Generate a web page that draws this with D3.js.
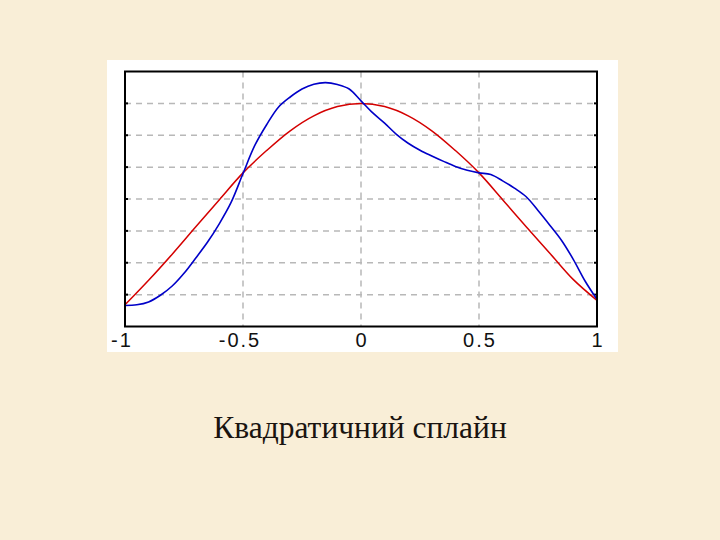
<!DOCTYPE html>
<html>
<head>
<meta charset="utf-8">
<script src="https://cdn.jsdelivr.net/npm/d3@7"></script>
<style>
  html, body { margin: 0; padding: 0; background: #f9eed7; }
  svg { display: block; }
</style>
</head>
<body>
<svg id="chart" width="720" height="540"></svg>
<script>
// ---- data ----
const redX = [-1, -0.9, -0.8, -0.7, -0.6, -0.5, -0.4, -0.3, -0.2, -0.1, 0,
              0.1, 0.2, 0.3, 0.4, 0.5, 0.6, 0.7, 0.8, 0.9, 1];
const redValues = [0.368, 0.445, 0.527, 0.613, 0.698, 0.782, 0.852, 0.914, 0.961, 0.990, 1.0,
                   0.990, 0.961, 0.914, 0.852, 0.782, 0.698, 0.613, 0.530, 0.447, 0.382];
const blueX = [-1, -0.95, -0.9, -0.85, -0.8, -0.75, -0.7, -0.65, -0.6, -0.55, -0.5,
               -0.45, -0.4, -0.35, -0.3, -0.25, -0.2, -0.15, -0.1, -0.05, 0,
               0.05, 0.1, 0.15, 0.2, 0.25, 0.3, 0.35, 0.4, 0.45, 0.5,
               0.55, 0.6, 0.65, 0.7, 0.75, 0.8, 0.85, 0.9, 0.95, 1];
const blueValues = [0.366, 0.368, 0.377, 0.398, 0.427, 0.467, 0.515, 0.565, 0.623, 0.690, 0.780,
                    0.868, 0.933, 0.988, 1.020, 1.045, 1.060, 1.065, 1.059, 1.045, 1.008,
                    0.970, 0.938, 0.903, 0.875, 0.853, 0.835, 0.818, 0.802, 0.790, 0.782,
                    0.777, 0.757, 0.734, 0.707, 0.664, 0.618, 0.570, 0.510, 0.442, 0.385];
const xTicks = [-1, -0.5, 0, 0.5, 1];
const xTickLabels = ["-1", "-0.5", "0", "0.5", "1"];
const xGrid = [-0.5, 0, 0.5];
const yGrid = [0.4, 0.5, 0.6, 0.7, 0.8, 0.9, 1.0];
const title = "Квадратичний сплайн";

// ---- layout ----
const svg = d3.select("#chart");
const plot = { left: 125, right: 597, top: 71.5, bottom: 326.5 };

const x = d3.scaleLinear().domain([-1, 1]).range([plot.left, plot.right]);
const y = d3.scaleLinear().domain([0.3, 1.1]).range([plot.bottom, plot.top]);

// white panel
svg.append("rect")
  .attr("x", 107).attr("y", 60).attr("width", 511).attr("height", 292)
  .attr("fill", "#ffffff");

// grid
const g = svg.append("g");
g.selectAll("line.vg").data(xGrid).enter().append("line")
  .attr("x1", d => x(d)).attr("x2", d => x(d))
  .attr("y1", plot.top).attr("y2", plot.bottom)
  .attr("stroke", "#b8b8b8").attr("stroke-width", 1.5)
  .attr("stroke-dasharray", "6,5");
g.selectAll("line.hg").data(yGrid).enter().append("line")
  .attr("x1", plot.left).attr("x2", plot.right)
  .attr("y1", d => y(d)).attr("y2", d => y(d))
  .attr("stroke", "#b8b8b8").attr("stroke-width", 1.5)
  .attr("stroke-dasharray", "6,5");

// small y ticks on left and right edges
g.selectAll("line.lt").data(yGrid).enter().append("line")
  .attr("x1", plot.left).attr("x2", plot.left + 3)
  .attr("y1", d => y(d)).attr("y2", d => y(d))
  .attr("stroke", "#000").attr("stroke-width", 2);
g.selectAll("line.rt").data(yGrid).enter().append("line")
  .attr("x1", plot.right - 3).attr("x2", plot.right)
  .attr("y1", d => y(d)).attr("y2", d => y(d))
  .attr("stroke", "#000").attr("stroke-width", 2);

// curves
const makeLine = xs => d3.line()
  .x((d, i) => x(xs[i]))
  .y(d => y(d))
  .curve(d3.curveCatmullRom.alpha(0.5));

svg.append("path").datum(redValues)
  .attr("d", makeLine(redX)).attr("fill", "none")
  .attr("stroke", "#d40000").attr("stroke-width", 1.5);
svg.append("path").datum(blueValues)
  .attr("d", makeLine(blueX)).attr("fill", "none")
  .attr("stroke", "#0000c8").attr("stroke-width", 1.6);

// border
svg.append("rect")
  .attr("x", plot.left).attr("y", plot.top)
  .attr("width", plot.right - plot.left).attr("height", plot.bottom - plot.top)
  .attr("fill", "none").attr("stroke", "#000").attr("stroke-width", 2);

// x tick labels
svg.selectAll("text.xl").data(xTicks).enter().append("text")
  .attr("x", (d, i) => x(d) + (d < 0 ? -3 : 1))
  .attr("y", 347)
  .attr("text-anchor", "middle")
  .attr("font-family", "Liberation Sans, Arial, sans-serif")
  .attr("font-size", 20)
  .attr("letter-spacing", 2)
  .attr("fill", "#111")
  .text((d, i) => xTickLabels[i]);

// title
svg.append("text")
  .attr("x", 360).attr("y", 438)
  .attr("text-anchor", "middle")
  .attr("font-family", "Liberation Serif, Times New Roman, serif")
  .attr("font-size", 31.5)
  .attr("fill", "#1a1410")
  .text(title);
</script>
</body>
</html>
